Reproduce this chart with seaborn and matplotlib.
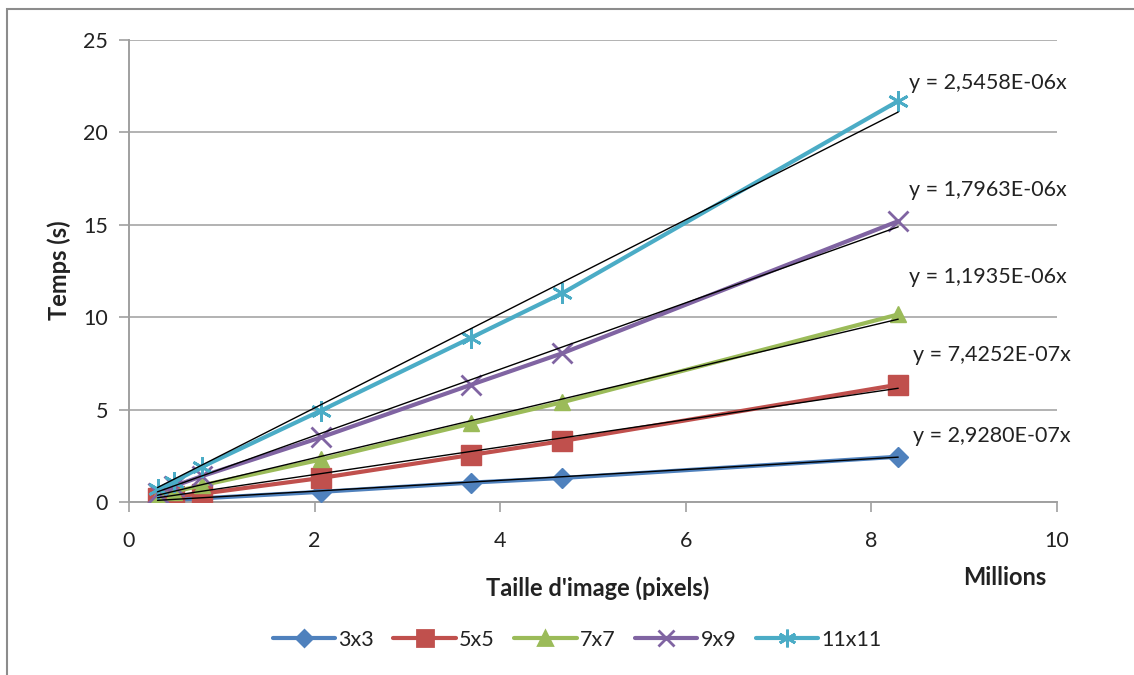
import matplotlib
matplotlib.use("Agg")
import matplotlib.pyplot as plt
import seaborn as sns
import numpy as np
import pandas as pd
from matplotlib.patches import Rectangle
from matplotlib.lines import Line2D

# Image sizes in millions of pixels
sizes = [0.307, 0.48, 0.786, 2.07, 3.69, 4.67, 8.29]

# Processing time (s) for each kernel size
t_3x3 = [0.08, 0.12, 0.20, 0.55, 1.05, 1.30, 2.45]
t_5x5 = [0.20, 0.30, 0.45, 1.30, 2.55, 3.30, 6.35]
t_7x7 = [0.35, 0.55, 0.90, 2.30, 4.25, 5.40, 10.15]
t_9x9 = [0.50, 0.85, 1.40, 3.50, 6.35, 8.05, 15.20]
t_11x11 = [0.70, 1.10, 1.90, 4.95, 8.90, 11.30, 21.70]

kernels = ["3x3", "5x5", "7x7", "9x9", "11x11"]
# Linear trend slopes (seconds per pixel), fitted through the origin
slopes = [2.9280e-07, 7.4252e-07, 1.1935e-06, 1.7963e-06, 2.5458e-06]
slope_labels = ["y = 2,9280E-07x", "y = 7,4252E-07x", "y = 1,1935E-06x",
                "y = 1,7963E-06x", "y = 2,5458E-06x"]

colors = ["#4F81BD", "#C0504D", "#9BBB59", "#8064A2", "#4BACC6"]
markers = ["D", "s", "^", "x", (6, 2, 0)]
msizes = [10, 14, 12, 14, 15]

sns.set_theme(style="white")
plt.rcParams["font.family"] = ["Lato", "DejaVu Sans"]

FS = 15.5
FS_BOLD = 17
TXT = "#222222"

fig = plt.figure(figsize=(11.34, 6.75), dpi=100)
ax = fig.add_axes([0.1138, 0.2563, 0.932 - 0.1138, 0.9407 - 0.2563])

series = [t_3x3, t_5x5, t_7x7, t_9x9, t_11x11]
frames = []
for k, vals in zip(kernels, series):
    frames.append(pd.DataFrame({"size": sizes, "time": vals, "kernel": k}))
df = pd.concat(frames, ignore_index=True)

for k, c, m, ms in zip(kernels, colors, markers, msizes):
    sub = df[df["kernel"] == k]
    thin = m == "x" or isinstance(m, tuple)
    sns.lineplot(data=sub, x="size", y="time", ax=ax, color=c, linewidth=3,
                 marker=m, markersize=ms, markeredgecolor=c,
                 markeredgewidth=2 if thin else 1, legend=False, zorder=3)

# Thin black linear trendlines across the data range
xs = np.array([min(sizes), max(sizes)])
for s in slopes:
    ax.plot(xs, s * 1e6 * xs, color="black", linewidth=1, zorder=4)

# Trendline equations
label_pos = [(8.45, 3.57), (8.45, 7.95), (8.41, 12.2), (8.41, 16.9), (8.41, 22.7)]
for (lx, ly), txt in zip(label_pos, slope_labels):
    ax.text(lx, ly, txt, fontsize=FS, color=TXT, va="center", ha="left")

ax.set_xlim(0, 10)
ax.set_ylim(0, 25)
ax.set_xticks(range(0, 11, 2))
ax.set_yticks(range(0, 26, 5))
ax.tick_params(axis="both", labelsize=FS, labelcolor=TXT, length=7,
               width=1.2, direction="out", color="#A0A0A0")
ax.tick_params(axis="x", bottom=True, pad=14)
ax.tick_params(axis="y", left=True, pad=8)
ax.yaxis.grid(True, color="#A6A6A6", linewidth=1.2)
ax.xaxis.grid(False)
for sp in ["top", "right"]:
    ax.spines[sp].set_visible(False)
for sp in ["left", "bottom"]:
    ax.spines[sp].set_color("#A0A0A0")
    ax.spines[sp].set_linewidth(1.4)

ax.set_xlabel("")
ax.set_ylabel("")
fig.text(0.052, 0.60, "Temps (s)", rotation=90, fontsize=FS_BOLD, fontweight="bold",
         ha="center", va="center", color=TXT)
fig.text(0.527, 0.129, "Taille d'image (pixels)", fontsize=FS_BOLD, fontweight="bold",
         ha="center", va="center", color=TXT)
fig.text(0.886, 0.145, "Millions", fontsize=FS_BOLD, fontweight="bold",
         ha="center", va="center", color=TXT)

handles = [Line2D([0], [0], color=c, linewidth=3, marker=m, markersize=ms * 0.85,
                  markeredgecolor=c, markeredgewidth=2)
           for c, m, ms in zip(colors, markers, msizes)]
fig.legend(handles, kernels, loc="center", bbox_to_anchor=(0.509, 0.052), ncol=5,
           frameon=False, fontsize=FS, handlelength=2.9, columnspacing=0.9,
           handletextpad=0.15, labelcolor=TXT)

# Chart area border (left and top edges fall inside the image)
fig.patches.append(Rectangle((0.006, -0.05), 1.2, 1.037, transform=fig.transFigure,
                             fill=False, edgecolor="#8C8C8C", linewidth=1.5))

fig.savefig("out.png", dpi=100)
